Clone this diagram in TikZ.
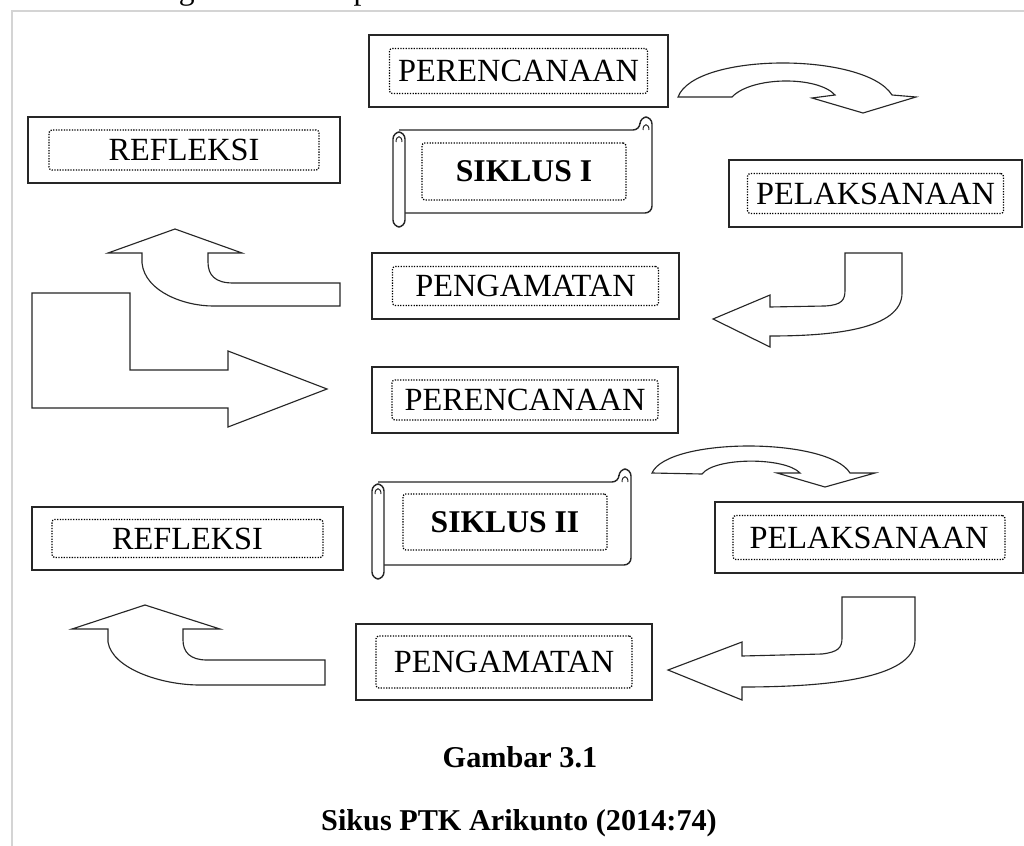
\documentclass[tikz,border=0pt]{standalone}
\usepackage{fontspec}
\setmainfont{Liberation Serif}
\usepackage{xcolor}
\definecolor{ptkGaris}{HTML}{262626}
\definecolor{ptkBingkai}{HTML}{D4D4D4}
\newcommand{\kotak}[7]{
  \node[kotak, minimum width=#3*0.025cm, minimum height=#4*0.025cm] (#1) at (#2) {};
  \node[bingkai, minimum width=#5*0.025cm, minimum height=#6*0.025cm] (#1t) at (#1.center) {#7};}
\newcommand{\gulungan}[2]{
  \begin{scope}[shift={(#1,#2)}]
    \draw[gulung] (6,0) -- (247,0) -- (247,-13) -- (259,-13) -- (259,83) -- (6,83);
    \draw[gulung] (0,2) rectangle (12,97);
    \draw[ptkGaris, line width=0.7pt] (250,0) .. controls (250,-7) and (256,-7) .. (256,0);
    \draw[ptkGaris, line width=0.7pt] (3,12) .. controls (3,5) and (9,5) .. (9,12);
  \end{scope}}

\begin{document}
\begin{tikzpicture}[x=0.025cm, y=-0.025cm,
  kotak/.style={draw=ptkGaris, line width=1.3pt, inner sep=0pt},
  bingkai/.style={draw=black, densely dotted, line width=0.9pt, rounded corners=2pt, inner sep=0pt, font=\fontsize{23}{26}\selectfont},
  judul/.style={font=\fontsize{22.5}{26}\selectfont\bfseries},
  gulung/.style={draw=ptkGaris, line width=1pt, fill=white, rounded corners=5pt},
  panah/.style={draw=ptkGaris, line width=0.8pt, fill=white, line join=miter},
  teks/.style={inner sep=0pt, anchor=base, font=\fontsize{21.5}{24}\selectfont\bfseries}]
\useasboundingbox (0,0) rectangle (1024,846);
\fill[white] (0,0) rectangle (1024,846);
% potongan kalimat di atas gambar
\node[inner sep=0pt, anchor=base west, font=\fontsize{22.5}{26}\selectfont] (kalimat) at (154,0) {digambarkan seperti berikut ini.};
\draw[ptkBingkai, line width=1.5pt] (12,846) -- (12,11) -- (1024,11);

% siklus I
\kotak{rencana1}{518.5,71}{299}{72}{258}{45}{PERENCANAAN}
\kotak{refleksi1}{184,150}{312}{66}{270}{40}{REFLEKSI}
\kotak{laksana1}{875.5,193.5}{293}{67}{256}{40}{PELAKSANAAN}
\kotak{amat1}{525.5,286}{307}{66}{266}{39}{PENGAMATAN}
\gulungan{393}{130}
\node[bingkai, judul, minimum width=204*0.025cm, minimum height=57*0.025cm] (siklus1) at (524,171.5) {SIKLUS I};

% siklus II
\kotak{rencana2}{525,400}{306}{66}{266}{40}{PERENCANAAN}
\kotak{refleksi2}{187.5,538.5}{311}{63}{271}{38}{REFLEKSI}
\kotak{laksana2}{869,537.5}{308}{71}{272}{44}{PELAKSANAAN}
\kotak{amat2}{504,662}{296}{76}{256}{52}{PENGAMATAN}
\gulungan{372}{482}
\node[bingkai, judul, minimum width=204*0.025cm, minimum height=56*0.025cm] (siklus2) at (505,522) {SIKLUS II};

% panah blok
\draw[panah] (678,97) .. controls (695,52) and (865,52) .. (892,95) -- (916,97) -- (863,113) -- (812,98) -- (835,95)
  .. controls (818,76) and (752,76) .. (732,97) -- cycle;
\draw[panah] (845,253) -- (902,253) -- (902,293) .. controls (902,330) and (830,336) .. (770,336) -- (770,347) -- (713,319)
  -- (770,295) -- (770,307) -- (825,306) .. controls (842,305) and (845,300) .. (845,290) -- cycle;
\draw[panah] (340,283) -- (233,283) .. controls (215,283) and (208,275) .. (208,262) -- (208,253) -- (242,253) -- (175,229)
  -- (108,253) -- (142,253) -- (142,263) .. controls (145,292) and (185,306) .. (213,306) -- (340,306) -- cycle;
\draw[panah] (32,293) -- (130,293) -- (130,370) -- (228,370) -- (228,351) -- (327,389) -- (228,427) -- (228,408) -- (32,408) -- cycle;
\draw[panah] (652,473) .. controls (668,437) and (828,437) .. (850,473) -- (875,473) -- (825,487) -- (777,473) -- (800,473)
  .. controls (785,457) and (715,457) .. (702,474) -- cycle;
\draw[panah] (842,597) -- (915,597) -- (915,640) .. controls (915,680) and (820,687) .. (742,687) -- (742,700) -- (668,670)
  -- (742,642) -- (742,656) -- (822,654) .. controls (838,652) and (842,648) .. (842,638) -- cycle;
\draw[panah] (325,660) -- (207,660) .. controls (190,660) and (183,652) .. (183,640) -- (183,629) -- (220,629) -- (145,605)
  -- (72,629) -- (108,629) -- (108,642) .. controls (112,668) and (160,685) .. (200,685) -- (325,685) -- cycle;

% keterangan
\node[teks] (gambar) at (520,767) {Gambar 3.1};
\node[teks] (sumber) at (519,830) {Sikus PTK Arikunto (2014:74)};
\end{tikzpicture}
\end{document}
